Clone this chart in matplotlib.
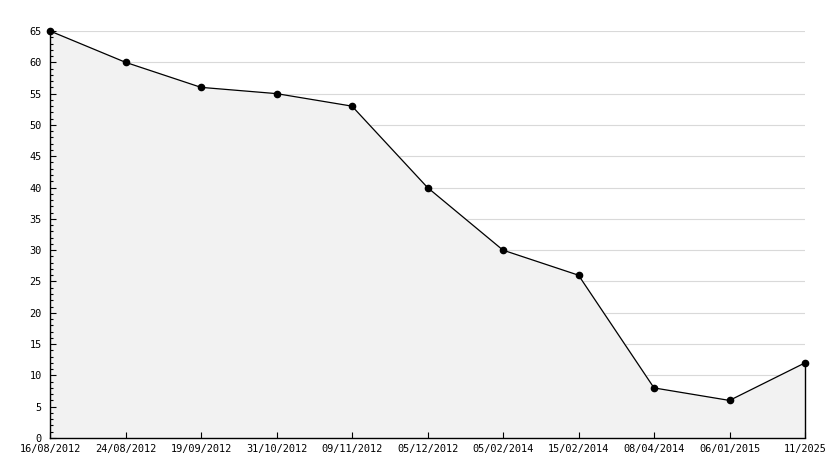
import matplotlib
matplotlib.use("Agg")
import matplotlib.pyplot as plt
from matplotlib.ticker import MultipleLocator

labels = ["16/08/2012", "24/08/2012", "19/09/2012", "31/10/2012", "09/11/2012",
          "05/12/2012", "05/02/2014", "15/02/2014", "08/04/2014", "06/01/2015", "11/2025"]
values = [65, 60, 56, 55, 53, 40, 30, 26, 8, 6, 12]

plt.rcParams['font.family'] = ['DejaVu Sans Mono']
fig = plt.figure(figsize=(8.34, 4.68), dpi=100)
ax = fig.add_axes([50/834, 1-438/468, (805-50)/834, (438-31)/468])

x = list(range(len(values)))
ax.fill_between(x, values, 0, color="#f2f2f2", zorder=1)
ax.plot(x, values, color="black", lw=0.9, marker="o", ms=4.5, zorder=4, clip_on=False)
ax.vlines(x[-1], 0, values[-1], color="black", lw=1, zorder=3, clip_on=False)

ax.set_xlim(0, len(values) - 1)
ax.set_ylim(0, 65)
ax.set_xticks(x)
ax.set_xticklabels(labels)
ax.yaxis.set_major_locator(MultipleLocator(5))
ax.yaxis.set_minor_locator(MultipleLocator(1))
for yv in range(5, 66, 5):
    ax.axhline(yv, color="#d9d9d9", lw=0.8, zorder=0)

for s in ["top", "right"]:
    ax.spines[s].set_visible(False)
ax.spines["left"].set_linewidth(1)
ax.spines["bottom"].set_linewidth(1)
ax.tick_params(axis="both", direction="in", labelsize=7.4, colors="black", width=0.8)
ax.tick_params(axis="y", which="major", length=4, pad=6)
ax.tick_params(axis="y", which="minor", length=2.5, width=0.8, direction="in")
ax.tick_params(axis="x", which="major", length=4, pad=4)

fig.savefig("out.png", dpi=100)
